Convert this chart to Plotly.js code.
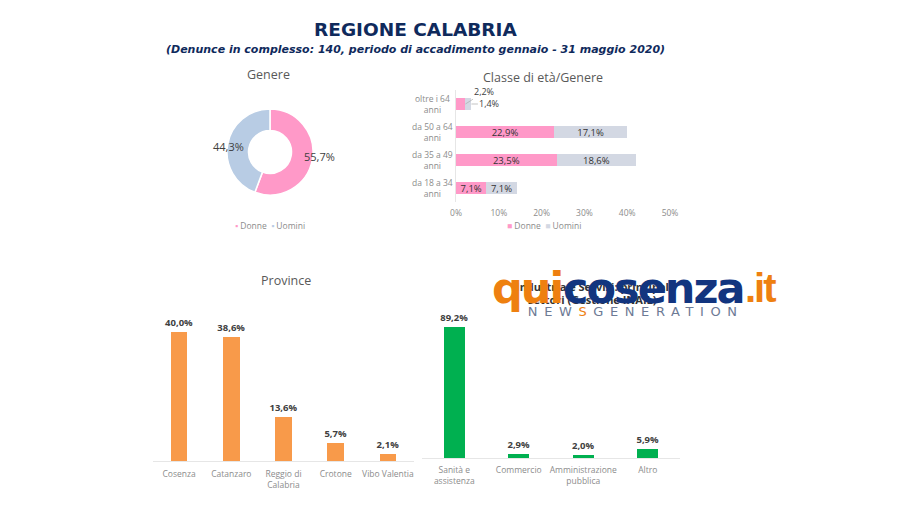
<!DOCTYPE html>
<html><head><meta charset="utf-8">
<script src="https://cdn.plot.ly/plotly-3.0.1.min.js"></script>
<style>
html,body{margin:0;padding:0;background:#fff}
</style></head><body><div id="c" style="width:900px;height:505px"></div>
<script>
const genderLabels=['Donne','Uomini'];
const genderValues=[55.7,44.3];
const ageCats=['da 18 a 34 anni','da 35 a 49 anni','da 50 a 64 anni','oltre i 64 anni'];
const ageTicks=['da 18 a 34<br>anni','da 35 a 49<br>anni','da 50 a 64<br>anni','oltre i 64<br>anni'];
const ageDonne=[7.1,23.5,22.9,2.2];
const ageUomini=[7.1,18.6,17.1,1.4];
const provCats=['Cosenza','Catanzaro','Reggio di<br>Calabria','Crotone','Vibo Valentia'];
const provValues=[40.0,38.6,13.6,5.7,2.1];
const secCats=['Sanità e<br>assistenza','Commercio','Amministrazione<br>pubblica','Altro'];
const secValues=[89.2,2.9,2.0,5.9];

const W=900,H=505;
const fx=p=>p/W, fy=p=>1-p/H;
const fmt=v=>v.toFixed(1).replace('.',',')+'%';
const BODY='"Open Sans", sans-serif', HEAD='"DejaVu Sans", sans-serif', LIB='"Liberation Sans", sans-serif';
const PINK='#ff99c8',GREY='#d3d8e3',BLUE='#b8cce4',ORANGE='#f89a4a',GREEN='#00b050';
const LOGO_O='#ee8010',LOGO_N='#12357f';
const TXT='#404040',TICK='#8c8c8c',TITLE='#595959',LINE='#e6e6e6';

const stackText={family:BODY,size:9.5,color:'#333'};
const valueText={family:BODY,size:9.5,color:TXT,weight:700};
const traces=[
 {type:'pie',labels:genderLabels,values:genderValues,hole:0.5,sort:false,direction:'clockwise',rotation:0,
  marker:{colors:[PINK,BLUE],line:{color:'#fff',width:1.5}},textinfo:'none',hoverinfo:'label+percent',
  domain:{x:[fx(227),fx(313)],y:[fy(195.5),fy(108.5)]},showlegend:false},
 {type:'bar',orientation:'h',name:'Donne',y:ageCats,x:ageDonne,xaxis:'x',yaxis:'y',width:0.4,marker:{color:PINK},
  text:ageDonne.map((v,i)=>i===3?'':fmt(v)),textposition:'inside',insidetextanchor:'middle',constraintext:'none',
  textfont:stackText,showlegend:false},
 {type:'bar',orientation:'h',name:'Uomini',y:ageCats,x:ageUomini,xaxis:'x',yaxis:'y',width:0.4,marker:{color:GREY},
  text:ageUomini.map((v,i)=>i===3?'':fmt(v)),textposition:'inside',insidetextanchor:'middle',constraintext:'none',
  textfont:stackText,showlegend:false},
 {type:'bar',x:provCats,y:provValues,xaxis:'x2',yaxis:'y2',width:0.32,marker:{color:ORANGE},
  text:provValues.map(fmt),textposition:'outside',cliponaxis:false,constraintext:'none',
  textfont:valueText,showlegend:false},
 {type:'bar',x:secCats,y:secValues,xaxis:'x3',yaxis:'y3',width:0.32,marker:{color:GREEN},
  text:secValues.map(fmt),textposition:'outside',cliponaxis:false,constraintext:'none',
  textfont:valueText,showlegend:false}
];

function note(x,y,text,font,extra){
 return Object.assign({xref:'paper',yref:'paper',x:fx(x),y:fy(y),text,showarrow:false,xanchor:'center',yanchor:'middle',
  font:Object.assign({family:BODY},font)},extra||{});
}
const legendEntry=(c,sym,t)=>`<span style="color:${c}">${sym}</span> ${t}`;
const NAVY='#0f2a5c';

const annotations=[
 note(415.5,29.5,'REGIONE CALABRIA',{family:HEAD,size:18.5,color:NAVY,weight:700}),
 note(415,49.5,'<i>(Denunce in complesso: 140, periodo di accadimento gennaio - 31 maggio 2020)</i>',{family:HEAD,size:11,color:NAVY,weight:700}),
 note(268,74,'Genere',{size:12.5,color:TITLE}),
 note(543,77,'Classe di età/Genere',{size:12.5,color:TITLE}),
 note(286,280,'Province',{size:12.5,color:TITLE}),
 note(319,156,fmt(genderValues[0]),{size:11,color:TXT}),
 note(228,146,fmt(genderValues[1]),{size:11,color:TXT}),
 note(270,226,legendEntry(PINK,'▪',genderLabels[0])+'  '+legendEntry(BLUE,'▪',genderLabels[1]),{size:8.5,color:TICK}),
 note(544,226,legendEntry(PINK,'■',genderLabels[0])+'  '+legendEntry(GREY,'■',genderLabels[1]),{size:8.5,color:TICK}),
 {xref:'x',yref:'y',x:ageDonne[3],y:ageCats[3],ax:19,ay:-12,text:fmt(ageDonne[3]),showarrow:true,arrowhead:0,arrowwidth:.7,arrowcolor:'#aaa',
  font:{family:BODY,size:9,color:TXT}},
 {xref:'x',yref:'y',x:ageDonne[3]+ageUomini[3],y:ageCats[3],ax:18,ay:0,text:fmt(ageUomini[3]),showarrow:true,arrowhead:0,arrowwidth:.7,arrowcolor:'#aaa',
  font:{family:BODY,size:9,color:TXT}},
 ...ageTicks.map((t,i)=>({xref:'paper',yref:'y',x:fx(432),y:ageCats[i],text:t,showarrow:false,align:'center',xanchor:'center',yanchor:'middle',
  font:{family:BODY,size:8.5,color:TICK}})),
 note(594,286,'Industria e Servizi: principali',{size:11,color:'#333',weight:700}),
 note(592,299,'settori (Gestione INAIL)',{size:11,color:'#333',weight:700}),
 note(527,288,'qui',{family:HEAD,size:43,color:LOGO_O,weight:700}),
 note(653,288,'cosenza',{family:HEAD,size:43,color:LOGO_N,weight:700}),
 note(760,288,'.it',{family:LIB,size:40,color:LOGO_O,weight:700}),
 note(635,311.5,`NEW<span style="color:${LOGO_O}">S</span>GENERATION`,{family:HEAD,size:13,color:'#6d7a95'})
];

const layout={
 width:W,height:H,margin:{l:0,r:0,t:0,b:0},paper_bgcolor:'#fff',plot_bgcolor:'#fff',barmode:'stack',showlegend:false,
 xaxis:{domain:[fx(456),fx(670)],range:[0,50],anchor:'y',tickvals:[0,10,20,30,40,50],ticktext:['0%','10%','20%','30%','40%','50%'],
  showgrid:false,zeroline:false,showline:false,ticks:'',ticklabelstandoff:4,tickfont:{family:BODY,size:8.5,color:TICK}},
 yaxis:{domain:[fy(202),fy(90)],type:'category',categoryorder:'array',categoryarray:ageCats,range:[-0.5,3.5],anchor:'x',showgrid:false,zeroline:false,showline:true,
  linecolor:LINE,linewidth:1,showticklabels:false,ticks:''},
 xaxis2:{domain:[fx(153),fx(414)],anchor:'y2',type:'category',showgrid:false,zeroline:false,showline:true,linecolor:LINE,ticks:'',
  tickangle:0,ticklabelstandoff:5,tickfont:{family:BODY,size:8.5,color:TICK}},
 yaxis2:{domain:[fy(461),fy(316)],range:[0,45],anchor:'x2',visible:false},
 xaxis3:{domain:[fx(422),fx(680)],anchor:'y3',type:'category',showgrid:false,zeroline:false,showline:true,linecolor:LINE,ticks:'',
  tickangle:0,ticklabelstandoff:4,tickfont:{family:BODY,size:8.5,color:TICK}},
 yaxis3:{domain:[fy(458),fy(314)],range:[0,98],anchor:'x3',visible:false},
 annotations
};
const n=annotations.length;
const st=document.createElement('style');
st.textContent=`.annotation[data-index="${n-4}"] text,.annotation[data-index="${n-3}"] text{letter-spacing:-2px}
.annotation[data-index="${n-2}"] text{letter-spacing:-2px}
.annotation[data-index="${n-1}"] text{letter-spacing:6.6px}`;
document.head.appendChild(st);
Plotly.newPlot('c',traces,layout,{displayModeBar:false,staticPlot:true});
</script></body></html>
